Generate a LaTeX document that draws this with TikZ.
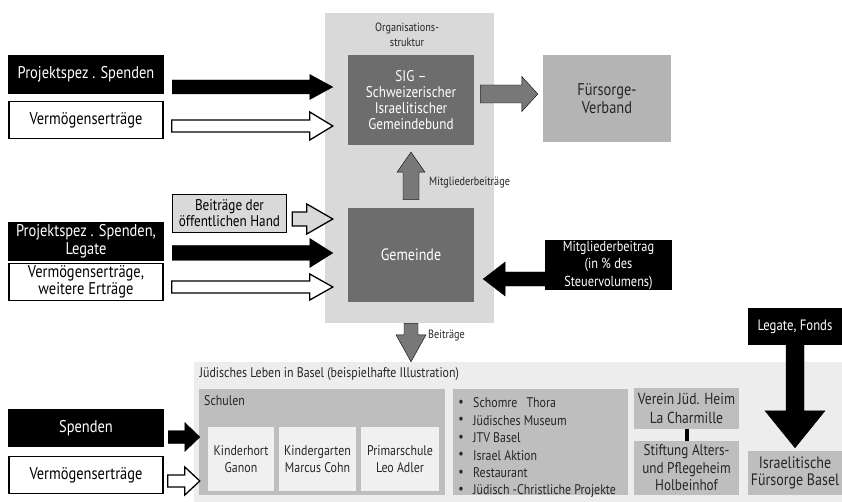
\documentclass[tikz,border=0pt]{standalone}
\usepackage{fontspec}
\setmainfont{PT Sans}[FakeStretch=0.85]
\usepackage{xcolor}
\usepackage{tikz}
\usetikzlibrary{positioning,calc}

\definecolor{orggrau}{HTML}{D9D9D9}
\definecolor{dunkelgrau}{HTML}{6D6D6D}
\definecolor{mittelgrau}{HTML}{B4B4B4}
\definecolor{pfeilgrau}{HTML}{787878}
\definecolor{bandgrau}{HTML}{EDEDED}
\definecolor{boxgrau}{HTML}{BEBEBE}
\definecolor{hellgrau}{HTML}{F0F0F0}
\definecolor{textdunkel}{HTML}{262626}

\newcommand{\schriftgross}{\fontsize{17}{18}\selectfont}
\newcommand{\schriftmittel}{\fontsize{14}{17}\selectfont}
\newcommand{\schriftklein}{\fontsize{12}{15}\selectfont}

% Blockpfeil: [Stil]{von}{nach}{Schaft}{Kopfbreite}{Kopflaenge}
\newcommand{\blockpfeil}[6][]{%
	\coordinate (hb) at ($(#3)!#6!(#2)$);
	\draw[#1] ($(#2)!#4!90:(#3)$) -- ($(hb)!#4!90:(#3)$) -- ($(hb)!#5!90:(#3)$) -- (#3)
	-- ($(hb)!#5!-90:(#3)$) -- ($(hb)!#4!-90:(#3)$) -- ($(#2)!#4!-90:(#3)$) -- cycle;
}

\begin{document}
\begin{tikzpicture}[x=1pt,y=-1pt,
	every node/.style={inner sep=0pt,align=center},
	schwarzbox/.style={fill=black,text=white,minimum width=156pt,minimum height=38.5pt,font=\schriftgross},
	weissbox/.style={draw=black,line width=1.3pt,fill=white,minimum width=154pt,minimum height=37pt,font=\fontsize{17}{17}\selectfont},
	graubox/.style={fill=boxgrau,text=textdunkel},
	pfeilschwarz/.style={fill=black},
	pfeilhohl/.style={draw=black,line width=1.3pt,fill=white},
	pfeilgrau/.style={fill=pfeilgrau}]
	\useasboundingbox (0,0) rectangle (842,502);
	
	% Organisationsstruktur
	\node[fill=orggrau,minimum width=169pt,minimum height=310pt] (org) at (409.5,168) {};
	\node[font=\schriftklein,text=textdunkel] (orgtext) at (407,35) {Organisations-\\struktur};
	\node[fill=dunkelgrau,text=white,font=\fontsize{15.5}{16}\selectfont,minimum width=126pt,minimum height=90pt] 
	(sig) at (411,100) {SIG --\\Schweizerischer\\Israelitischer\\Gemeindebund};
	\node[fill=dunkelgrau,text=white,font=\fontsize{16.5}{18}\selectfont,minimum width=126pt,minimum height=94pt] 
	(gem) at (411,255) {Gemeinde};
	\node[fill=mittelgrau,text=textdunkel,font=\schriftgross,minimum width=128pt,minimum height=87pt] 
	(fv) at (607,98.5) {Fürsorge-\\Verband};
	\node[fill=black,text=white,font=\fontsize{14.5}{17.5}\selectfont,minimum width=127pt,minimum height=50pt] 
	(mb) at (608.5,265) {Mitgliederbeitrag\\(in \% des\\Steuervolumens)};
	\node[draw=black,line width=1.3pt,fill=orggrau,font=\fontsize{15.5}{16}\selectfont,minimum width=114pt,minimum height=38pt] 
	(oeff) at (229.5,213.5) {Beiträge der\\öffentlichen Hand};
	\node[fill=black,text=white,font=\fontsize{15}{18}\selectfont,minimum width=94pt,minimum height=37pt] 
	(lf) at (795,326.5) {Legate, Fonds};
	
	% Geldquellen links
	\foreach \n/\y/\name in {psp1/74.5/{Projektspez . Spenden},psp2/241.5/{Projektspez . Spenden,\\Legate},spenden/428/Spenden}{
		\node[schwarzbox] (\n) at (86,\y) {\name};
	}
	\foreach \n/\y/\name in {ve1/120/Vermögenserträge,ve2/282/{Vermögenserträge,\\weitere Erträge},ve3/475/Vermögenserträge}{
		\node[weissbox] (\n) at (86,\y) {\name};
	}
	
	% Juedisches Leben in Basel
	\node[fill=bandgrau,minimum width=648pt,minimum height=140pt] (jl) at (518,432) {};
	\node[anchor=west,font=\schriftmittel,text=textdunkel] (jltext) at (199.5,374) 
	{Jüdisches Leben in Basel (beispielhafte Illustration)};
	\node[fill=boxgrau,minimum width=246pt,minimum height=106pt] (schulen) at (322,442) {};
	\node[anchor=west,font=\schriftmittel,text=textdunkel] (schultext) at (204,401) {Schulen};
	\foreach \n/\x/\w/\name in {kh/241/66/{Kinderhort\\Ganon},kg/317.5/77/{Kindergarten\\Marcus Cohn},ps/400/78/{Primarschule\\Leo Adler}}{
		\node[fill=hellgrau,text=textdunkel,font=\schriftmittel,minimum width=\w pt,minimum height=64pt] 
		(\n) at (\x,459) {\name};
	}
	\node[fill=boxgrau,minimum width=175pt,minimum height=106pt] (bul) at (540.5,442) {};
	\foreach \i/\name in {1/{Schomre\hspace{9pt}Thora},2/Jüdisches Museum,3/JTV Basel,4/Israel Aktion,5/Restaurant,6/Jüdisch -Christliche Projekte}{
		\node[font=\schriftmittel,text=textdunkel] (p\i) at (461,385.5+17.5*\i) {\textbullet};
		\node[anchor=west,font=\schriftmittel,text=textdunkel] (b\i) at (473,385.5+17.5*\i) {\name};
	}
	\node[graubox,minimum width=105pt,minimum height=41pt,font=\fontsize{16}{19}\selectfont] 
	(verein) at (686.5,408.5) {Verein Jüd. Heim\\La Charmille};
	\node[graubox,minimum width=105pt,minimum height=54pt,font=\fontsize{15.5}{17.5}\selectfont] 
	(stift) at (686.5,468) {Stiftung Alters-\\und Pflegeheim\\Holbeinhof};
	\node[graubox,minimum width=94pt,minimum height=44pt,font=\fontsize{16.5}{17.5}\selectfont] 
	(ifb) at (795,473) {Israelitische\\Fürsorge Basel};
	\draw[line width=4pt] (verein.south) -- (stift.north);
	
	% Pfeile
	\coordinate (a1s) at ($(psp1.east)+(8,12.5)$);
	\coordinate (a1e) at ($(sig.west|-a1s)+(-15,0)$);
	\blockpfeil[pfeilschwarz]{a1s}{a1e}{7pt}{12.5pt}{23pt}
	\coordinate (a2s) at ($(ve1.east)+(8,6)$);
	\coordinate (a2e) at ($(sig.west|-a2s)+(-15,0)$);
	\blockpfeil[pfeilhohl]{a2s}{a2e}{6pt}{14pt}{23pt}
	\coordinate (a3s) at ($(oeff.east)+(5,5.5)$);
	\coordinate (a3e) at ($(gem.west|-a3s)+(-15,0)$);
	\blockpfeil[pfeilhohl,fill=orggrau]{a3s}{a3e}{7pt}{15pt}{26pt}
	\coordinate (a4s) at ($(psp2.east)+(8,11.5)$);
	\coordinate (a4e) at ($(gem.west|-a4s)+(-15,0)$);
	\blockpfeil[pfeilschwarz]{a4s}{a4e}{7.5pt}{14.5pt}{23pt}
	\coordinate (a5s) at ($(ve2.east)+(8,5)$);
	\coordinate (a5e) at ($(gem.west|-a5s)+(-15,0)$);
	\blockpfeil[pfeilhohl]{a5s}{a5e}{6pt}{13pt}{23pt}
	
	\coordinate (a6s) at ($(gem.north)+(0,-8)$);
	\coordinate (a6e) at ($(sig.south)+(0,7)$);
	\blockpfeil[pfeilgrau]{a6s}{a6e}{8pt}{14pt}{20pt}
	\node[anchor=west,font=\schriftklein,text=textdunkel] (mgtext) at (429,183) {Mitgliederbeiträge};
	\coordinate (a7s) at (gem.south|-org.south);
	\coordinate (a7e) at (a7s|-jl.north);
	\blockpfeil[pfeilgrau]{a7s}{a7e}{7pt}{15pt}{27pt}
	\node[anchor=west,font=\schriftklein,text=textdunkel] (btext) at (428,336) {Beiträge};
	\coordinate (a8s) at ($(sig.east)+(6,-6)$);
	\coordinate (a8e) at ($(fv.west|-a8s)+(-5,0)$);
	\blockpfeil[pfeilgrau]{a8s}{a8e}{9pt}{17.5pt}{16pt}
	\coordinate (a9s) at ($(mb.west)+(0,14)$);
	\coordinate (a9e) at ($(gem.east|-a9s)+(9,0)$);
	\blockpfeil[pfeilschwarz]{a9s}{a9e}{7pt}{17pt}{22pt}
	\coordinate (a10s) at (lf.south);
	\coordinate (a10e) at ($(ifb.north)+(0,-3)$);
	\blockpfeil[pfeilschwarz]{a10s}{a10e}{9pt}{30pt}{37pt}
	
	\coordinate (a11s) at ($(spenden.east)+(4,9)$);
	\coordinate (a11e) at ($(schulen.west|-a11s)+(1,0)$);
	\blockpfeil[pfeilschwarz]{a11s}{a11e}{6.5pt}{14.5pt}{15pt}
	\coordinate (a12s) at ($(ve3.east)+(4,6)$);
	\coordinate (a12e) at ($(schulen.west|-a12s)+(1,0)$);
	\blockpfeil[pfeilhohl]{a12s}{a12e}{6pt}{14pt}{15pt}
\end{tikzpicture}
\end{document}
